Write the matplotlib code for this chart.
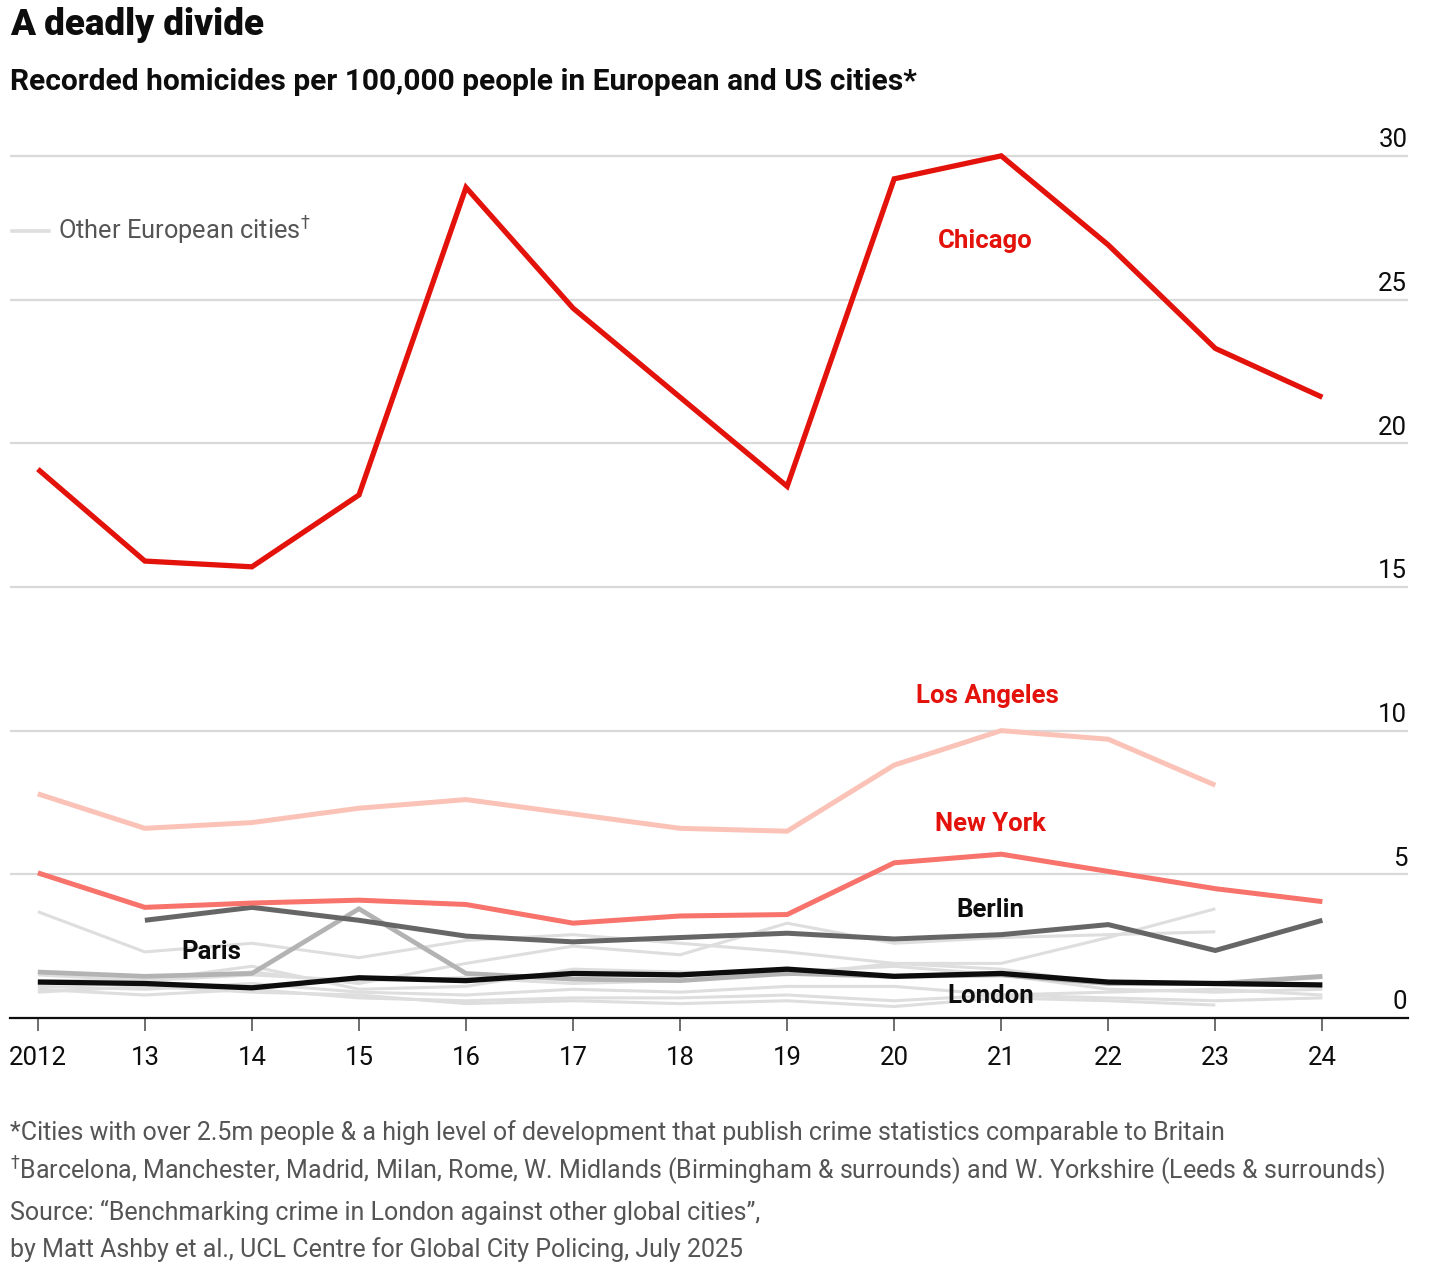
import matplotlib
matplotlib.use("Agg")
import matplotlib.pyplot as plt
import matplotlib.transforms as mtransforms

plt.rcParams['font.family'] = ['Roboto', 'DejaVu Sans']

years = list(range(2012, 2025))
tick_labels = ['2012', '13', '14', '15', '16', '17', '18', '19', '20', '21', '22', '23', '24']

chicago = [19.1, 15.9, 15.7, 18.2, 28.9, 24.7, 21.6, 18.5, 29.2, 30.0, 26.9, 23.3, 21.6]
los_angeles = [7.8, 6.6, 6.8, 7.3, 7.6, 7.1, 6.6, 6.5, 8.8, 10.0, 9.7, 8.1]
new_york = [5.05, 3.85, 4.0, 4.1, 3.95, 3.3, 3.55, 3.6, 5.4, 5.7, 5.1, 4.5, 4.05]
berlin = [None, 3.4, 3.85, 3.4, 2.85, 2.65, 2.8, 2.95, 2.75, 2.9, 3.25, 2.35, 3.4]
paris = [1.6, 1.45, 1.55, 3.8, 1.55, 1.35, 1.3, 1.55, 1.45, 1.5, 1.2, 1.2, 1.45]
london = [1.25, 1.2, 1.05, 1.4, 1.3, 1.55, 1.5, 1.7, 1.45, 1.55, 1.25, 1.2, 1.15]

# other European cities (unlabelled grey lines)
others = {
    'W. Midlands': [3.7, 2.3, 2.6, 2.1, 2.7, 2.9, 2.6, 2.3, 1.9, 1.9, 2.8, 3.8],
    'W. Yorkshire': [1.6, 1.4, 1.6, 1.2, 1.9, 2.5, 2.2, 3.3, 2.6, 2.8, 2.9, 3.0],
    'Barcelona': [1.3, 1.3, 1.8, 1.0, 1.1, 1.7, 1.6, 1.5, 1.9, 1.7, 1.2, 1.2, 1.4],
    'Manchester': [1.1, 1.0, 1.2, 0.9, 0.8, 1.0, 0.9, 1.1, 1.1, 0.8, 0.9, 1.0, 0.8],
    'Madrid': [1.0, 0.8, 1.0, 0.7, 0.6, 0.7, 0.7, 0.8, 0.6, 0.8, 0.7, 0.6, 0.7],
    'Milan': [0.9, 1.1, 0.9, 0.8, 0.5, 0.6, 0.5, 0.6, 0.4, 0.7, 0.6, 0.45],
    'Rome': [1.5, 1.3, 1.5, 1.3, 1.4, 1.2, 1.3, 1.6, 1.8, 1.5, 1.0, 0.9, 1.0],
}

fig = plt.figure(figsize=(14.34, 12.76), dpi=100)
ax = fig.add_axes([10 / 1434, 1 - 1018 / 1276, 1398 / 1434, (1018 - 130) / 1276])
ax.set_xlim(2011.74, 2024.80)
ax.set_ylim(0, 30.9)

for v in range(5, 35, 5):
    ax.axhline(v, color='#d9d9d9', lw=1.6, zorder=0)

def draw(vals, **kw):
    xs = [y for y, v in zip(years, vals) if v is not None]
    ys = [v for v in vals if v is not None]
    ax.plot(xs, ys, solid_capstyle='butt', solid_joinstyle='miter', **kw)

for name, vals in others.items():
    draw(vals, color='#dedede', lw=2.2, zorder=1)
draw(paris, color='#b3b3b3', lw=3.4, zorder=2)
draw(berlin, color='#666666', lw=3.6, zorder=3)
draw(london, color='#0d0d0d', lw=3.8, zorder=4)
draw(los_angeles, color='#fbc3b7', lw=3.6, zorder=3)
draw(new_york, color='#f7736b', lw=3.6, zorder=3)
draw(chicago, color='#e3120b', lw=3.8, zorder=5)

# labels
lab = dict(fontsize=18.5, fontweight='bold', ha='center', va='center')
ax.text(2020.85, 27.05, 'Chicago', color='#e3120b', **lab)
ax.text(2020.87, 11.2, 'Los Angeles', color='#e3120b', **lab)
ax.text(2020.9, 6.75, 'New York', color='#e3120b', **lab)
ax.text(2020.9, 3.75, 'Berlin', color='#0d0d0d', **lab)
ax.text(2020.9, 0.75, 'London', color='#0d0d0d', **lab)
ax.text(2013.62, 2.3, 'Paris', color='#0d0d0d', **lab)

# legend
ax.plot([2011.76, 2012.1], [27.4, 27.4], color='#dedede', lw=2.6)
ax.text(2012.19, 27.4, 'Other European cities$^{\u2020}$', color='#555555', fontsize=18.3,
        ha='left', va='center')

# y labels on the right, above gridlines
trans = mtransforms.blended_transform_factory(ax.transAxes, ax.transData)
for v in range(0, 35, 5):
    ax.text(0.9995, v + 0.3, str(v), transform=trans, ha='right', va='baseline',
            fontsize=18.5, color='#0d0d0d')

for s in ['left', 'right', 'top']:
    ax.spines[s].set_visible(False)
ax.spines['bottom'].set_color('#0d0d0d')
ax.spines['bottom'].set_linewidth(1.6)
ax.set_yticks([])
ax.set_xticks(years)
ax.set_xticklabels(tick_labels, fontsize=18.5, color='#0d0d0d')
ax.tick_params(axis='x', length=9, width=1.2, color='#555555', pad=11)

fig.text(10 / 1434, 1 - 25 / 1276, 'A deadly divide', fontsize=26.5, fontweight='heavy',
         ha='left', va='center', color='#0d0d0d')
fig.text(10 / 1434, 1 - 82 / 1276, 'Recorded homicides per 100,000 people in European and US cities*',
         fontsize=21.5, fontweight='bold', ha='left', va='center', color='#0d0d0d')

notes = [
    '*Cities with over 2.5m people & a high level of development that publish crime statistics comparable to Britain',
    '$^{\u2020}$Barcelona, Manchester, Madrid, Milan, Rome, W. Midlands (Birmingham & surrounds) and W. Yorkshire (Leeds & surrounds)',
    'Source: \u201cBenchmarking crime in London against other global cities\u201d,',
    'by Matt Ashby et al., UCL Centre for Global City Policing, July 2025',
]
for t, yy in zip(notes, [1133, 1171, 1212, 1250]):
    fig.text(10 / 1434, 1 - yy / 1276, t, fontsize=18, ha='left', va='center', color='#555555')

fig.savefig('out.png', dpi=100)
